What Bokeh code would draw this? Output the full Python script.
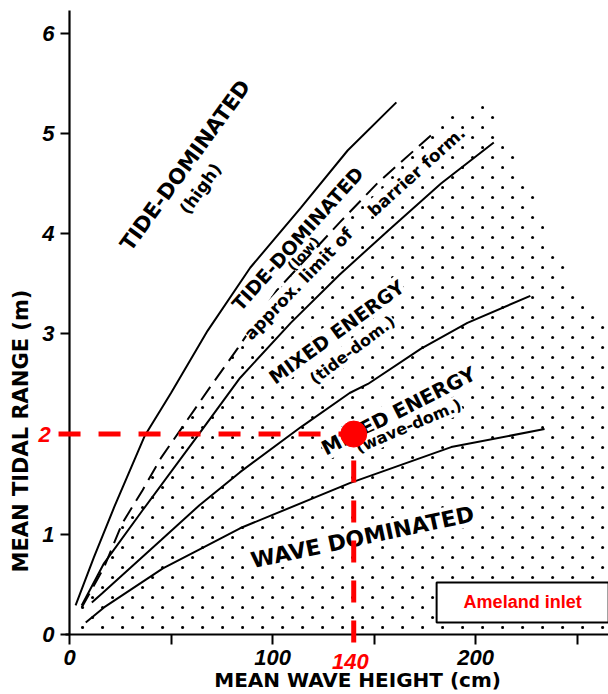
import numpy as np
from bokeh.plotting import figure
from bokeh.models import FixedTicker, Label, Range1d, LinearAxis
from bokeh.embed import file_html
from bokeh.resources import INLINE

# ---- data (mean wave height in cm, mean tidal range in m) ----
tide_high_low_x = [3, 12, 22, 37, 50, 68, 89, 114, 137, 161]
tide_high_low_y = [0.29, 0.77, 1.27, 1.98, 2.41, 3.03, 3.66, 4.26, 4.83, 5.31]

barrier_limit_x = [6, 17, 26, 36, 45, 58, 70, 83, 102, 133, 152, 178]
barrier_limit_y = [0.27, 0.67, 1.11, 1.44, 1.76, 2.14, 2.49, 2.86, 3.43, 4.11, 4.51, 4.98]

tide_low_mixed_x = [6, 17, 36, 63, 84, 109, 133, 158, 183, 209]
tide_low_mixed_y = [0.29, 0.71, 1.24, 1.98, 2.56, 3.11, 3.59, 4.05, 4.50, 4.91]

mixed_tide_wave_x = [11, 16, 45, 64, 84, 114, 138, 147, 173, 196, 227]
mixed_tide_wave_y = [0.32, 0.41, 0.94, 1.29, 1.62, 2.07, 2.41, 2.50, 2.85, 3.11, 3.38]

mixed_wave_x = [8, 17, 46, 66, 84, 138, 188, 234]
mixed_wave_y = [0.12, 0.27, 0.66, 0.87, 1.06, 1.51, 1.87, 2.05]

# stippled (barrier) field outline: below the barrier limit, bounded at the right
stipple_extra_x = [190, 203, 210, 237, 248, 266, 266]
stipple_extra_y = [5.21, 5.31, 5.21, 3.96, 3.55, 3.03, 0]

x_ticks = [0, 50, 100, 150, 200, 250]
x_tick_labels = {0: "0", 50: "", 100: "100", 150: "", 200: "200", 250: ""}
y_ticks = [0, 1, 2, 3, 4, 5, 6]
y_tick_labels = {0: "0", 1: "1", 2: "", 3: "3", 4: "4", 5: "5", 6: "6"}

site_name = "Ameland inlet"
site_wave = 140
site_tide = 2

RED = "#ff0000"

p = figure(frame_width=608, frame_height=694,
           x_range=Range1d(-33.99, 265.5), y_range=Range1d(-0.599, 6.327),
           x_axis_type=None, y_axis_type=None,
           output_backend="svg", toolbar_location=None, min_border=0)
p.outline_line_color = None
p.background_fill_color = "white"
p.border_fill_color = "white"

xaxis = LinearAxis(fixed_location=0, bounds=(-2, 265.5), ticker=FixedTicker(ticks=x_ticks),
                   major_label_overrides=x_tick_labels)
yaxis = LinearAxis(fixed_location=0, bounds=(0, 6.23), ticker=FixedTicker(ticks=y_ticks),
                   major_label_overrides=y_tick_labels)
for ax in (xaxis, yaxis):
    ax.axis_line_width = 2.2
    ax.axis_line_color = "black"
    ax.major_tick_in = 0
    ax.major_tick_line_width = 2
    ax.minor_tick_line_color = None
    ax.major_label_text_font = "Liberation Sans"
    ax.major_label_text_font_style = "bold italic"
    ax.major_label_text_font_size = "22px"
    ax.major_label_text_color = "black"
xaxis.major_tick_out = 10
xaxis.major_label_standoff = 6
yaxis.major_tick_out = 9
yaxis.major_label_standoff = 6
p.add_layout(xaxis, "below")
p.add_layout(yaxis, "left")

# stipple texture for the barrier field
poly_x = np.array([0] + barrier_limit_x + stipple_extra_x, dtype=float)
poly_y = np.array([0] + barrier_limit_y + stipple_extra_y, dtype=float)
dot_dx, dot_dy = 20 / 2.03, 10 / 100.2
gx, gy = [], []
for k in range(64):
    yy = 0.07 + k * dot_dy
    xs = np.arange(75.4 - 9 * dot_dx + (k % 2) * dot_dx / 2, 266, dot_dx)
    gx.append(xs)
    gy.append(np.full_like(xs, yy))
gx = np.concatenate(gx)
gy = np.concatenate(gy)
inside = np.zeros(gx.shape, dtype=bool)
j = len(poly_x) - 1
for i in range(len(poly_x)):
    xi, yi, xj, yj = poly_x[i], poly_y[i], poly_x[j], poly_y[j]
    cross = ((yi > gy) != (yj > gy)) & (gx < (xj - xi) * (gy - yi) / (yj - yi + 1e-12) + xi)
    inside ^= cross
    j = i
p.scatter(gx[inside], gy[inside], size=3, color="black", line_color=None)

# boundary curves
p.line(tide_high_low_x, tide_high_low_y, line_color="black", line_width=2)
p.line(barrier_limit_x, barrier_limit_y, line_color="black", line_width=2, line_dash="16 8")
p.line(tide_low_mixed_x, tide_low_mixed_y, line_color="black", line_width=2)
p.line(mixed_tide_wave_x, mixed_tide_wave_y, line_color="black", line_width=2)
p.line(mixed_wave_x, mixed_wave_y, line_color="black", line_width=2)

# region labels
def lab(x, y, text, angle, size="16px", bg=None):
    p.add_layout(Label(x=x, y=y, text=text, angle=angle, angle_units="deg",
                       text_align="center", text_baseline="middle",
                       text_font="DejaVu Sans", text_font_style="bold",
                       text_font_size=size, text_color="black",
                       background_fill_color=bg))

lab(57.1, 4.68, "TIDE-DOMINATED", 54, "21px")
lab(64.5, 4.45, "(high)", 54, "17px")
lab(112.3, 3.95, "TIDE-DOMINATED", 48, "19px")
lab(115.3, 3.80, "(low)", 48, "14px")
lab(112.8, 3.50, "approx. limit of", 46, "17px", "white")
lab(170.9, 4.62, "barrier form.", 42, "17px", "white")
lab(131.5, 3.02, "MIXED ENERGY", 36, "19px", "white")
lab(139.4, 2.84, "(tide-dom.)", 37, "16px", "white")
lab(162.1, 2.23, "MIXED ENERGY", 27, "20px", "white")
lab(167.0, 2.08, "(wave-dom.)", 23, "16px", "white")
lab(144.3, 0.97, "WAVE DOMINATED", 12, "22px", "white")

# axis titles
lab(141.9, -0.45, "MEAN WAVE HEIGHT (cm)", 0, "20px")
lab(-24.1, 2.03, "MEAN TIDAL RANGE (m)", 90, "21px")

# Ameland inlet marker
p.line([-5.4, site_wave], [site_tide, site_tide], line_color=RED, line_width=5,
       line_dash="22 18", level="overlay")
p.line([site_wave, site_wave], [-0.08, site_tide], line_color=RED, line_width=5,
       line_dash="22 18", level="overlay")
p.scatter([site_wave], [site_tide], size=26, color=RED, level="overlay")

p.add_layout(Label(x=-12.3, y=site_tide, text=str(site_tide), text_align="center",
                   text_baseline="middle", text_font="Liberation Sans",
                   text_font_style="bold italic", text_font_size="22px", text_color=RED))
p.add_layout(Label(x=site_wave - 1.6, y=-0.27, text=str(site_wave), text_align="center",
                   text_baseline="middle", text_font="Liberation Sans",
                   text_font_style="bold italic", text_font_size="22px", text_color=RED))

p.add_layout(Label(x=223.2, y=0.32, text=site_name, text_align="center", text_baseline="middle",
                   text_font="Liberation Sans", text_font_style="bold", text_font_size="18px",
                   text_color=RED, background_fill_color="white",
                   border_line_color="black", border_line_width=2,
                   padding=dict(left=27, right=27, top=10, bottom=10)))

open("out.html", "w").write(file_html(p, INLINE))
